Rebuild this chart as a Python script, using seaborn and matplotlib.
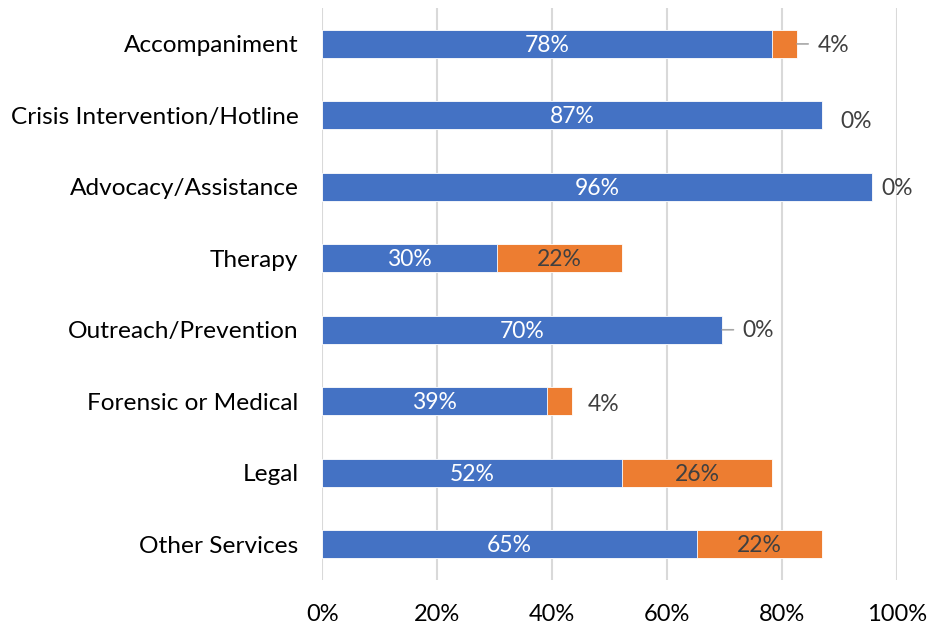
import numpy as np
import pandas as pd
import matplotlib
matplotlib.use("Agg")
import matplotlib.pyplot as plt
import seaborn as sns

# ---------------- data ----------------
categories = ["Accompaniment", "Crisis Intervention/Hotline", "Advocacy/Assistance",
              "Therapy", "Outreach/Prevention", "Forensic or Medical", "Legal",
              "Other Services"]
blue_vals = [78.3, 87.0, 95.7, 30.4, 69.6, 39.1, 52.2, 65.2]
orange_vals = [4.3, 0.0, 0.0, 21.7, 0.0, 4.3, 26.1, 21.7]
x_ticks = [0, 20, 40, 60, 80, 100]

BLUE = "#4472C4"
ORANGE = "#ED7D31"

df = pd.DataFrame({"cat": categories, "blue": blue_vals, "orange": orange_vals})
df["total"] = df["blue"] + df["orange"]

sns.set_theme(style="white")
plt.rcParams["font.family"] = ["Lato", "DejaVu Sans"]

fig = plt.figure(figsize=(9.34, 6.31), dpi=100)
ax = fig.add_axes([0.345, 0.081, 0.6155, 0.906])

sns.barplot(data=df, y="cat", x="total", color=ORANGE, orient="h", width=0.39,
            saturation=1, ax=ax, zorder=2)
sns.barplot(data=df, y="cat", x="blue", color=BLUE, orient="h", width=0.39,
            saturation=1, ax=ax, zorder=3)
for p in ax.patches:
    p.set_edgecolor("white")
    p.set_linewidth(0.6)

ax.set_xlim(0, 100)
ax.set_ylim(7.5, -0.5)
ax.set_xticks(x_ticks)
ax.set_xticklabels([f"{t}%" for t in x_ticks])
ax.set_xlabel("")
ax.set_ylabel("")
ax.tick_params(axis="x", length=0, pad=17, labelsize=17, labelcolor="#000000")
ax.tick_params(axis="y", length=0, pad=17, labelsize=17.6, labelcolor="#000000")
ax.xaxis.grid(True, color="#D9D9D9", linewidth=1.5, zorder=0)
ax.set_axisbelow(True)
for s in ax.spines.values():
    s.set_visible(False)

# value labels
small_offsets = [26, 24, 18, 26, 26, 23, 26, 26]
small_dy = [1.2, 4.2, 1.5, 0, 0.8, 2.2, 0, 0]
leader = [True, False, False, False, True, False, False, False]
for i, (b, o) in enumerate(zip(blue_vals, orange_vals)):
    ax.annotate(f"{b:.0f}%", xy=(b / 2, i), xytext=(0, -1), textcoords="offset points",
                color="white", ha="center", va="center", fontsize=16.5, zorder=5)
    if o >= 10:
        ax.annotate(f"{o:.0f}%", xy=(b + o / 2, i), xytext=(0, -1),
                    textcoords="offset points", color="#404040", ha="center",
                    va="center", fontsize=16.5, zorder=5)
    else:
        end = b + o
        ax.annotate(f"{o:.0f}%", xy=(end, i), xytext=(small_offsets[i], -small_dy[i]),
                    textcoords="offset points", ha="center", va="center",
                    fontsize=16.5, color="#404040", zorder=5)
        if leader[i]:
            ax.annotate("", xy=(end, i), xytext=(8, 0), textcoords="offset points",
                        arrowprops=dict(arrowstyle="-", color="#A6A6A6", lw=1.2,
                                        shrinkA=0, shrinkB=0))

fig.savefig("out.png", dpi=100)
